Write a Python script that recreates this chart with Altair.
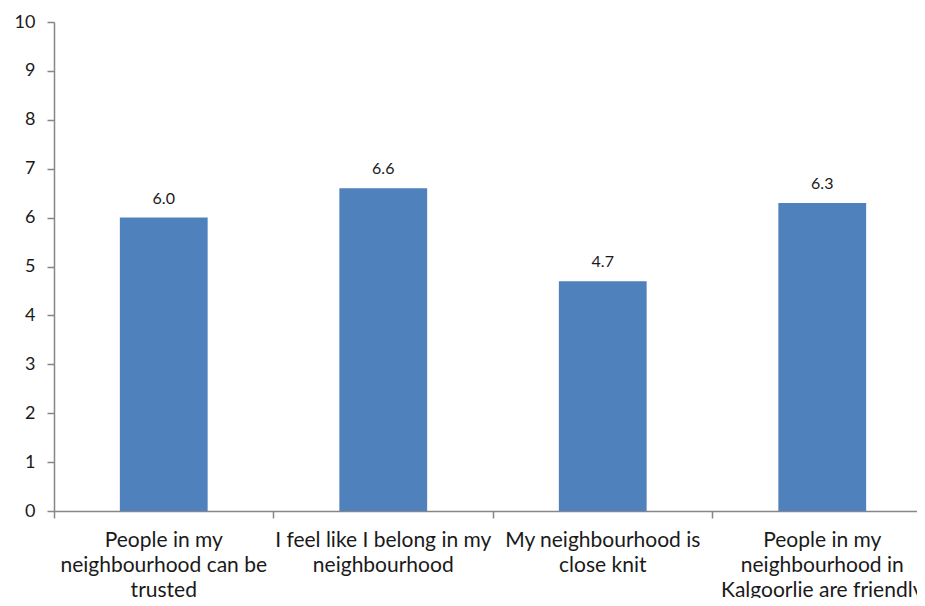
import altair as alt
import pandas as pd

categories = [
    "People in my\nneighbourhood can be\ntrusted",
    "I feel like I belong in my\nneighbourhood",
    "My neighbourhood is\nclose knit",
    "People in my\nneighbourhood in\nKalgoorlie are friendly",
]
values = [6.0, 6.6, 4.7, 6.3]
y_ticks = list(range(0, 11))

df = pd.DataFrame({"category": categories, "value": values})
df["label"] = [f"{v:.1f}" for v in values]

FONT = "Lato"
AXIS_COLOR = "#868686"
TEXT_COLOR = "#1a1a1a"

x_enc = alt.X(
    "category:N",
    sort=None,
    scale=alt.Scale(paddingInner=0.6, paddingOuter=0.3),
    axis=alt.Axis(
        title=None,
        labelAngle=0,
        labelExpr="split(datum.value, '\\n')",
        labelFont=FONT,
        labelFontSize=21,
        labelColor=TEXT_COLOR,
        labelLineHeight=25,
        labelBaseline="alphabetic",
        labelPadding=28,
        labelLimit=400,
        bandPosition=-0.75,
        tickSize=7,
        tickColor=AXIS_COLOR,
        tickWidth=1.5,
        domainColor=AXIS_COLOR,
        domainWidth=1.5,
        grid=False,
    ),
)

y_enc = alt.Y(
    "value:Q",
    scale=alt.Scale(domain=[0, 10], nice=False),
    axis=alt.Axis(
        title=None,
        values=y_ticks,
        format="d",
        labelFont=FONT,
        labelFontSize=18,
        labelColor=TEXT_COLOR,
        labelPadding=12,
        tickSize=7,
        tickColor=AXIS_COLOR,
        tickWidth=1.5,
        domainColor=AXIS_COLOR,
        domainWidth=1.5,
        grid=False,
    ),
)

base = alt.Chart(df).encode(x=x_enc, y=y_enc)

bars = base.mark_bar(color="#4F81BD")

labels = base.mark_text(
    baseline="alphabetic", dy=-14, font=FONT, fontSize=16, color=TEXT_COLOR
).encode(text="label:N")

chart = (
    alt.layer(bars, labels)
    .properties(
        width=878,
        height=489,
        padding={"left": 46, "top": 14, "right": -15, "bottom": 87},
        autosize=alt.AutoSizeParams(type="none"),
    )
    .configure_view(stroke=None)
)

chart.save("out.html", embed_options={"renderer": "svg", "actions": False})
